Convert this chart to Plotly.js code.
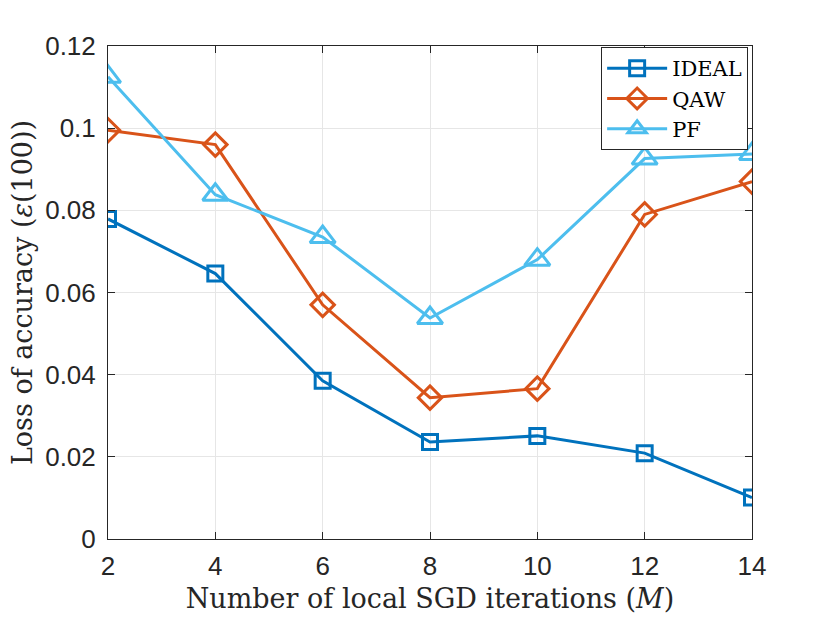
<!DOCTYPE html>
<html>
<head>
<meta charset="utf-8">
<script src="https://cdn.plot.ly/plotly-3.0.1.min.js"></script>
<style>
  html, body { margin: 0; padding: 0; background: #fff; }
  #chart { width: 830px; height: 623px; }
</style>
</head>
<body>
<div id="chart"></div>
<script>
  // local SGD iterations M
  var iterations = [2, 4, 6, 8, 10, 12, 14];

  // loss of accuracy eps(100)
  var ideal = [0.0779, 0.0646, 0.0385, 0.0236, 0.0251, 0.0209, 0.0101];
  var qaw   = [0.0995, 0.0960, 0.0570, 0.0344, 0.0366, 0.0790, 0.0870];
  var pf    = [0.1125, 0.0838, 0.0735, 0.0538, 0.0680, 0.0926, 0.0937];

  var yTicks = [0, 0.02, 0.04, 0.06, 0.08, 0.1, 0.12];
  var yTickText = ['0', '0.02', '0.04', '0.06', '0.08', '0.1', '0.12'];

  var tickFont = { family: 'Liberation Sans, Arial, sans-serif', size: 26, color: '#262626' };
  var titleFont = { family: 'DejaVu Serif, serif', size: 27, color: '#262626' };

  var idealTrace = {
    x: iterations,
    y: ideal,
    mode: 'lines+markers',
    name: 'IDEAL',
    line: { color: '#0072BD', width: 3 },
    marker: { symbol: 'square-open', size: 15, color: '#0072BD', line: { width: 3 } },
    type: 'scatter'
  };
  var qawTrace = {
    x: iterations,
    y: qaw,
    mode: 'lines+markers',
    name: 'QAW',
    line: { color: '#D95319', width: 3 },
    marker: { symbol: 'diamond-open', size: 18, color: '#D95319', line: { width: 3 } },
    type: 'scatter'
  };
  var pfTrace = {
    x: iterations,
    y: pf,
    mode: 'lines+markers',
    name: 'PF',
    line: { color: '#4DBEEE', width: 3 },
    marker: { symbol: 'triangle-up-open', size: 22, color: '#4DBEEE', line: { width: 3 } },
    type: 'scatter'
  };

  var data = [idealTrace, qawTrace, pfTrace];

  var layout = {
    width: 830,
    height: 623,
    margin: { l: 108, r: 78, t: 46, b: 84 },
    paper_bgcolor: '#fff',
    plot_bgcolor: '#fff',
    showlegend: true,
    xaxis: {
      range: [2, 14],
      tickvals: iterations,
      ticks: 'inside',
      ticklen: 7,
      tickcolor: '#262626',
      ticklabelstandoff: 4,
      showline: true,
      linecolor: '#262626',
      linewidth: 1,
      mirror: 'ticks',
      showgrid: true,
      gridcolor: '#e6e6e6',
      zeroline: false,
      tickfont: tickFont,
      title: {
        text: 'Number of local SGD iterations (<i>M</i>)',
        font: titleFont,
        standoff: 8
      }
    },
    yaxis: {
      range: [0, 0.12],
      tickvals: yTicks,
      ticktext: yTickText,
      ticks: 'inside',
      ticklen: 7,
      tickcolor: '#262626',
      ticklabelstandoff: 6,
      showline: true,
      linecolor: '#262626',
      linewidth: 1,
      mirror: 'ticks',
      showgrid: true,
      gridcolor: '#e6e6e6',
      zeroline: false,
      tickfont: tickFont,
      title: {
        text: 'Loss of accuracy (<i>ε</i>(100))',
        font: titleFont,
        standoff: 4
      }
    },
    legend: {
      x: 0.994,
      y: 0.998,
      xanchor: 'right',
      yanchor: 'top',
      bgcolor: '#fff',
      bordercolor: '#262626',
      borderwidth: 1,
      font: { family: 'DejaVu Serif, serif', size: 21, color: '#000' },
      itemwidth: 60
    }
  };

  Plotly.newPlot('chart', data, layout, { displayModeBar: false });
</script>
</body>
</html>
